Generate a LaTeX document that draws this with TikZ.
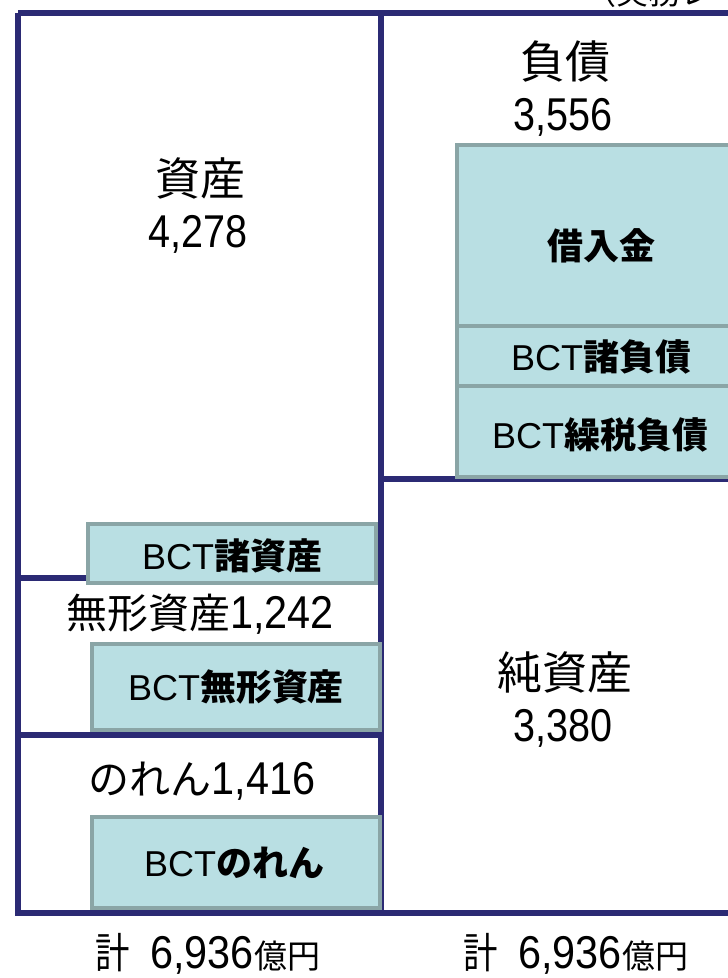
\documentclass[tikz,border=0pt]{standalone}
\usepackage{fontspec}
\usepackage{graphicx}
\setmainfont{Liberation Sans}
\newfontfamily\jp{Noto Sans CJK JP}
\newcommand\condnum[2][0.86]{\scalebox{#1}[1]{#2}}
\definecolor{navy}{RGB}{43,42,116}
\definecolor{tealfill}{RGB}{185,223,227}
\definecolor{tealborder}{RGB}{138,165,166}
\begin{document}
\begin{tikzpicture}[x=1pt,y=-1pt,
  frame/.style={draw=navy,line width=6pt,line join=miter},
  tealbox/.style={draw=tealborder,fill=tealfill,line width=4pt,inner sep=0pt},
  big/.style={font=\fontsize{45}{52}\selectfont\jp,inner sep=0pt},
  num/.style={font=\fontsize{46}{52}\selectfont,inner sep=0pt},
  boxtxt/.style={font=\fontsize{36}{42}\selectfont,inner sep=0pt},
  loantxt/.style={font=\fontsize{36}{42}\selectfont\jp\bfseries,inner sep=0pt}]
\useasboundingbox (0,0) rectangle (728,978);
\clip (0,0) rectangle (728,978);
% top cut-off caption
\node[font=\fontsize{32}{38}\selectfont\jp,inner sep=0pt,anchor=base west] (cap) at (584,4) {（実務レベル）};
% frame lines
\draw[frame] (18,13) -- (740,13);
\draw[frame] (18,13) -- (18,913) -- (740,913);
\draw[frame] (381,13) -- (381,913);
\draw[frame] (381,479) -- (740,479);
\draw[frame] (18,578) -- (381,578);
\draw[frame] (18,735) -- (381,735);
% liabilities boxes
\node[tealbox,minimum width=288pt,minimum height=181pt] (loan) at (601,235.5) {};
\node[tealbox,minimum width=288pt,minimum height=60pt] (bctl) at (601,356) {};
\node[tealbox,minimum width=288pt,minimum height=91pt] (bctt) at (601,431.5) {};
\node[loantxt] (loant) at (601,246) {借入金};
\node[boxtxt] (bctlt) at (601,357) {BCT{\jp\bfseries 諸負債}};
\node[boxtxt] (bcttt) at (600,435) {BCT{\jp\bfseries 繰税負債}};
% asset boxes
\node[tealbox,minimum width=288pt,minimum height=59pt] (bcta) at (232,553.5) {};
\node[tealbox,minimum width=288pt,minimum height=86pt] (bcti) at (236,687) {};
\node[tealbox,minimum width=288pt,minimum height=91pt] (bctg) at (236,862.5) {};
\node[boxtxt] (bctat) at (232,556) {BCT{\jp\bfseries 諸資産}};
\node[boxtxt] (bctit) at (236,687) {BCT{\jp\bfseries 無形資産}};
\node[boxtxt] (bctgt) at (234,863) {BCT{\jp\bfseries のれん}};
% main labels
\node[big] (asset) at (200,178) {資産};
\node[num] (assetv) at (198,234) {\condnum{4,278}};
\node[big] (liab) at (565,62) {負債};
\node[num] (liabv) at (563,117) {\condnum{3,556}};
\node[big] (eq) at (565,672) {純資産};
\node[num] (eqv) at (563,728) {\condnum{3,380}};
\node[num] (intang) at (200,614) {{\jp\fontsize{41}{48}\selectfont 無形資産}\condnum[0.9]{1,242}};
\node[num] (gw) at (202,781) {{\jp\fontsize{41}{48}\selectfont のれん}\condnum[0.9]{1,416}};
% totals
\node[num] (totl) at (208,954) {\condnum[0.82]{\jp\fontsize{42}{48}\selectfont 計}\hspace{20pt}\condnum[0.9]{6,936}{\jp\fontsize{33}{38}\selectfont 億円}};
\node[num] (totr) at (576,954) {\condnum[0.82]{\jp\fontsize{42}{48}\selectfont 計}\hspace{20pt}\condnum[0.9]{6,936}{\jp\fontsize{33}{38}\selectfont 億円}};
\end{tikzpicture}
\end{document}
